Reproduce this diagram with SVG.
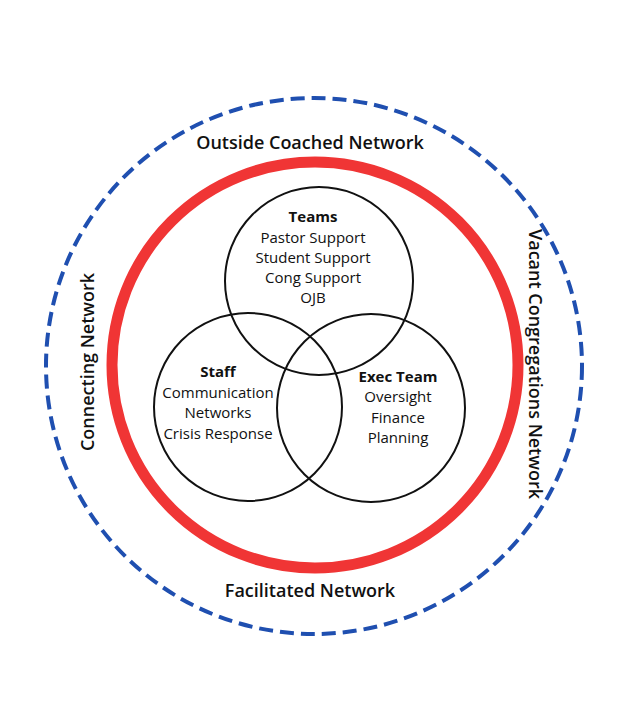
<svg xmlns="http://www.w3.org/2000/svg" width="623" height="725" viewBox="0 0 623 725">
<style>
.t{font-family:"Open Sans","Liberation Sans",sans-serif;fill:#111;text-anchor:middle}
.b{font-weight:bold}
.c{fill:none;stroke:#111;stroke-width:2}
.s{font-size:15px}
.l{font-size:18px;font-weight:600}
</style>
<rect width="623" height="725" fill="#fff"/>
<g id="outer"><circle cx="314" cy="366" r="268" fill="none" stroke="#1f4fb0" stroke-width="4" stroke-dasharray="14,7"/></g>
<g id="red"><circle cx="315" cy="365" r="203" fill="none" stroke="#f03535" stroke-width="11"/></g>
<g id="teams"><circle class="c" cx="319" cy="281" r="94"/>
<text class="t s b" x="313" y="222">Teams</text>
<text class="t s" x="313" y="243">Pastor Support</text>
<text class="t s" x="313" y="263">Student Support</text>
<text class="t s" x="313" y="283">Cong Support</text>
<text class="t s" x="313" y="303">OJB</text></g>
<g id="staff"><circle class="c" cx="248" cy="407" r="94"/>
<text class="t s b" x="218" y="377">Staff</text>
<text class="t s" x="218" y="398">Communication</text>
<text class="t s" x="218" y="418">Networks</text>
<text class="t s" x="218" y="439">Crisis Response</text></g>
<g id="exec"><circle class="c" cx="371" cy="408" r="94"/>
<text class="t s b" x="398" y="382">Exec Team</text>
<text class="t s" x="398" y="402">Oversight</text>
<text class="t s" x="398" y="423">Finance</text>
<text class="t s" x="398" y="443">Planning</text></g>
<g id="labels">
<text class="t l" x="310" y="149">Outside Coached Network</text>
<text class="t l" x="310" y="597">Facilitated Network</text>
<text class="t l" transform="translate(94,362) rotate(-90)">Connecting Network</text>
<text class="t l" transform="translate(529,364) rotate(90)">Vacant Congregations Network</text>
</g>
<g id="connectors"/>
</svg>
